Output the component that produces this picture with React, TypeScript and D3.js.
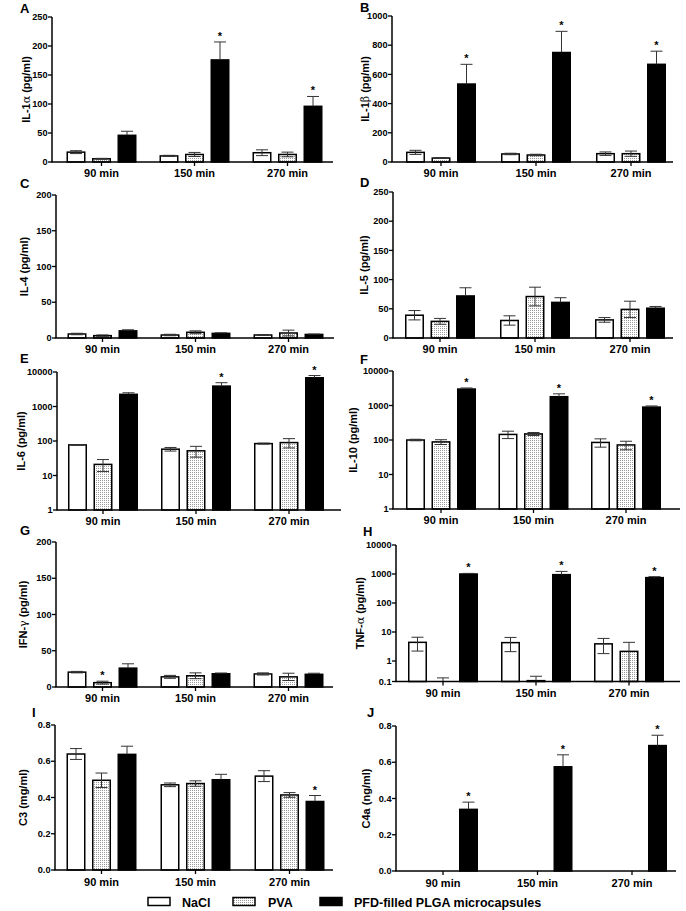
import React from 'react';
import * as d3 from 'd3';

const categories = ['90 min', '150 min', '270 min'];
const seriesNames = ['NaCl', 'PVA', 'PFD-filled PLGA microcapsules'];

// values per time group: [NaCl, PVA, PFD]
const il1aMean = [[17, 5.5, 46], [10.5, 13, 176], [16, 13, 96]];
const il1aErr = [[2.5, 0.8, 7], [1, 3.5, 31], [5, 4, 17]];
const il1aStars = [[1, 2], [2, 2]];
const il1aTicks = [0, 50, 100, 150, 200, 250];

const il1bMean = [[66, 27, 534], [55, 48, 750], [57, 57, 669]];
const il1bErr = [[14, 3, 135], [5, 5, 145], [12, 18, 90]];
const il1bStars = [[0, 2], [1, 2], [2, 2]];
const il1bTicks = [0, 200, 400, 600, 800, 1000];

const il4Mean = [[5.6, 3.3, 10], [4.2, 8, 6.5], [4.2, 7, 5]];
const il4Err = [[1, 1, 1.5], [1, 2, 0.8], [0.5, 4, 0.5]];
const il4Stars: number[][] = [];
const il4Ticks = [0, 50, 100, 150, 200];

const il5Mean = [[39, 28.5, 72], [30, 71, 61], [31, 49, 51]];
const il5Err = [[8, 5, 14], [8, 16, 8], [4, 14, 3]];
const il5Stars: number[][] = [];
const il5Ticks = [0, 50, 100, 150, 200, 250];

const il6Mean = [[77, 21, 2250], [58, 52, 3900], [84, 90, 6800]];
const il6Err = [[2, 8, 250], [7, 18, 1000], [3, 27, 1100]];
const il6Stars = [[1, 2], [2, 2]];
const il6Ticks = [1, 10, 100, 1000, 10000];

const il10Mean = [[100, 88, 3000], [145, 150, 1800], [85, 72, 900]];
const il10Err = [[5, 14, 220], [35, 15, 380], [23, 20, 70]];
const il10Stars = [[0, 2], [1, 2], [2, 2]];
const il10Ticks = [1, 10, 100, 1000, 10000];

const ifngMean = [[20.5, 6, 26], [14, 15.5, 18.3], [18, 14, 17.5]];
const ifngErr = [[1, 2, 6], [2, 4, 1], [1.5, 5, 1.5]];
const ifngStars = [[0, 1]];
const ifngTicks = [0, 50, 100, 150, 200];

const tnfaMean = [[4.4, 0.05, 1000], [4.3, 0.11, 950], [3.9, 2.15, 750]];
const tnfaErr = [[2.2, 0.1, 50], [2.2, 0.07, 280], [2.1, 2.25, 60]];
const tnfaStars = [[0, 2], [1, 2], [2, 2]];
const tnfaTicks = [0.1, 1, 10, 100, 1000, 10000];

const c3Mean = [[0.64, 0.495, 0.638], [0.47, 0.477, 0.498], [0.518, 0.414, 0.378]];
const c3Err = [[0.03, 0.04, 0.045], [0.01, 0.015, 0.03], [0.03, 0.013, 0.033]];
const c3Stars = [[2, 2]];
const c3Ticks = [0, 0.2, 0.4, 0.6, 0.8];

const c4aMean = [[0, 0, 0.34], [0, 0, 0.575], [0, 0, 0.692]];
const c4aErr = [[0, 0, 0.04], [0, 0, 0.066], [0, 0, 0.057]];
const c4aStars = [[0, 2], [1, 2], [2, 2]];
const c4aTicks = [0, 0.2, 0.4, 0.6, 0.8];

type Geo = { x0: number; x1: number; yTop: number; yBot: number; c1: number; step: number; lx: number; ly: number; tx: number; labOff: number };
type Panel = {
  letter: string;
  title: [string, string, string];
  mean: number[][];
  err: number[][];
  stars: number[][];
  ticks: number[];
  kind: 'lin' | 'log' | 'log2';
  fmt: (v: number) => string;
  geo: Geo;
};

const fInt = (v: number) => String(v);
const f1 = d3.format('.1f');

const panels: Panel[] = [
  { letter: 'A', title: ['IL-1', 'α', ' (pg/ml)'], mean: il1aMean, err: il1aErr, stars: il1aStars, ticks: il1aTicks, kind: 'lin', fmt: fInt,
    geo: { x0: 52, x1: 333, yTop: 17, yBot: 162, c1: 101.5, step: 93, lx: 20, ly: 13, tx: 26, labOff: 15 } },
  { letter: 'B', title: ['IL-1', 'β', ' (pg/ml)'], mean: il1bMean, err: il1bErr, stars: il1bStars, ticks: il1bTicks, kind: 'lin', fmt: fInt,
    geo: { x0: 392, x1: 673, yTop: 16, yBot: 162, c1: 441, step: 95, lx: 360, ly: 12, tx: 365, labOff: 15 } },
  { letter: 'C', title: ['IL-4 (pg/ml)', '', ''], mean: il4Mean, err: il4Err, stars: il4Stars, ticks: il4Ticks, kind: 'lin', fmt: fInt,
    geo: { x0: 56, x1: 334, yTop: 195, yBot: 338, c1: 102.5, step: 93, lx: 20, ly: 188, tx: 24, labOff: 15 } },
  { letter: 'D', title: ['IL-5 (pg/ml)', '', ''], mean: il5Mean, err: il5Err, stars: il5Stars, ticks: il5Ticks, kind: 'lin', fmt: fInt,
    geo: { x0: 393, x1: 673, yTop: 192, yBot: 338, c1: 440, step: 95, lx: 360, ly: 187, tx: 364, labOff: 15 } },
  { letter: 'E', title: ['IL-6 (pg/ml)', '', ''], mean: il6Mean, err: il6Err, stars: il6Stars, ticks: il6Ticks, kind: 'log', fmt: fInt,
    geo: { x0: 57, x1: 341, yTop: 372, yBot: 510, c1: 103, step: 93, lx: 20, ly: 363, tx: 21, labOff: 15 } },
  { letter: 'F', title: ['IL-10  (pg/ml)', '', ''], mean: il10Mean, err: il10Err, stars: il10Stars, ticks: il10Ticks, kind: 'log', fmt: fInt,
    geo: { x0: 393, x1: 680, yTop: 371, yBot: 509, c1: 441, step: 92.5, lx: 360, ly: 364, tx: 353, labOff: 15 } },
  { letter: 'G', title: ['IFN-', 'γ', ' (pg/ml)'], mean: ifngMean, err: ifngErr, stars: ifngStars, ticks: ifngTicks, kind: 'lin', fmt: fInt,
    geo: { x0: 56, x1: 333, yTop: 542, yBot: 687, c1: 102.5, step: 93, lx: 20, ly: 535, tx: 23, labOff: 15 } },
  { letter: 'H', title: ['TNF-', 'α', ' (pg/ml)'], mean: tnfaMean, err: tnfaErr, stars: tnfaStars, ticks: tnfaTicks, kind: 'log2', fmt: fInt,
    geo: { x0: 396, x1: 680, yTop: 545, yBot: 681.5, c1: 443, step: 93, lx: 363, ly: 536, tx: 360, labOff: 15 } },
  { letter: 'I', title: ['C3 (mg/ml)', '', ''], mean: c3Mean, err: c3Err, stars: c3Stars, ticks: c3Ticks, kind: 'lin', fmt: f1,
    geo: { x0: 55, x1: 333, yTop: 725, yBot: 870, c1: 101.5, step: 94, lx: 32, ly: 717, tx: 23, labOff: 16 } },
  { letter: 'J', title: ['C4a (ng/ml)', '', ''], mean: c4aMean, err: c4aErr, stars: c4aStars, ticks: c4aTicks, kind: 'lin', fmt: f1,
    geo: { x0: 396, x1: 676, yTop: 726, yBot: 871, c1: 443, step: 94.5, lx: 367, ly: 717, tx: 366, labOff: 16 } },
];

const fills = ['#ffffff', 'url(#dots)', '#000000'];
const FONT = "'Liberation Sans', Arial, Helvetica, sans-serif";

function PanelView({ p }: { p: Panel }) {
  const g = p.geo;
  let y: any;
  if (p.kind === 'lin') {
    y = d3.scaleLinear().domain([0, p.ticks[p.ticks.length - 1]]).range([g.yBot, g.yTop]).clamp(true);
  } else if (p.kind === 'log') {
    y = d3.scaleLog().domain([p.ticks[0], p.ticks[p.ticks.length - 1]]).range([g.yBot, g.yTop]).clamp(true);
  } else {
    // bottom segment 0.1-1 compressed, as in the original
    y = d3.scaleLog().domain([0.1, 1, 10000]).range([g.yBot, g.yBot - 20.5, g.yTop]).clamp(true);
  }
  const gx = d3.scaleBand().domain(categories).range([g.c1 - g.step / 2, g.c1 + 2.5 * g.step]);
  const sub = d3.scaleBand().domain(seriesNames).range([-34.25, 34.25]).paddingInner(0.314);
  const bw = sub.bandwidth();
  const gc = (c: string) => (gx(c) as number) + gx.bandwidth() / 2;
  const base = g.yBot;
  const yv = (v: number) => (v <= 0 ? base : y(v));

  return (
    <g>
      <text x={g.lx} y={g.ly} fontSize={13} fontWeight="bold">{p.letter}</text>
      {categories.map((c, ci) =>
        seriesNames.map((s, si) => {
          const m = p.mean[ci][si];
          if (m <= 0) return null;
          const bx = gc(c) + (sub(s) as number);
          const top = yv(m);
          if (base - top < 0.5) return null;
          return (
            <rect key={c + s} x={bx} y={top} width={bw} height={base - top}
              fill={fills[si]} stroke="#000" strokeWidth={1.5} />
          );
        })
      )}
      {categories.map((c, ci) =>
        seriesNames.map((s, si) => {
          const m = p.mean[ci][si];
          const e = p.err[ci][si];
          if (e <= 0) return null;
          const cx = gc(c) + (sub(s) as number) + bw / 2;
          const hi = yv(m + e);
          const mid = yv(m);
          const lo = yv(m - e);
          const cw = 6;
          return (
            <g key={'e' + c + s} stroke="#333" strokeWidth={1}>
              <line x1={cx} x2={cx} y1={hi} y2={si === 2 ? mid : lo} />
              <line x1={cx - cw} x2={cx + cw} y1={hi} y2={hi} />
              {si !== 2 && lo < base - 0.5 ? <line x1={cx - cw} x2={cx + cw} y1={lo} y2={lo} /> : null}
            </g>
          );
        })
      )}
      {p.stars.map(([ci, si]) => {
        const c = categories[ci];
        const s = seriesNames[si];
        const cx = gc(c) + (sub(s) as number) + bw / 2;
        const hi = yv(p.mean[ci][si] + p.err[ci][si]);
        return (
          <text key={'s' + ci + si} x={cx} y={hi - 2} fontSize={11} fontWeight="bold" textAnchor="middle">*</text>
        );
      })}
      <line x1={g.x0} x2={g.x0} y1={g.yTop} y2={g.yBot} stroke="#000" strokeWidth={1.5} />
      {p.ticks.map((t) => (
        <g key={'t' + t}>
          <line x1={g.x0 - 4} x2={g.x0} y1={y(t)} y2={y(t)} stroke="#000" strokeWidth={1.3} />
          <text x={g.x0 - 4.5} y={y(t)} dy="0.35em" fontSize={9.2} fontWeight="bold" textAnchor="end">{p.fmt(t)}</text>
        </g>
      ))}
      <line x1={g.x0 - 0.75} x2={g.x1} y1={g.yBot} y2={g.yBot} stroke="#000" strokeWidth={1.5} />
      {categories.map((c) => (
        <g key={'x' + c}>
          <line x1={gc(c)} x2={gc(c)} y1={g.yBot} y2={g.yBot + 4} stroke="#000" strokeWidth={1.3} />
          <text x={gc(c)} y={g.yBot + g.labOff} fontSize={11} fontWeight="bold" textAnchor="middle">{c}</text>
        </g>
      ))}
      <text transform={`translate(${g.tx},${(g.yTop + g.yBot) / 2}) rotate(-90)`} dy="0.35em" fontSize={11} fontWeight="bold" textAnchor="middle">
        {p.title[0]}
        {p.title[1] ? <tspan fontWeight="normal" fontFamily="'DejaVu Serif', serif">{p.title[1]}</tspan> : null}
        {p.title[2]}
      </text>
    </g>
  );
}

export default function App() {
  const legendX = [148, 233, 320];
  const legendTX = [182, 268, 354];
  return (
    <svg width={686} height={911} style={{ position: 'absolute', left: 0, top: 0, background: '#fff' }} fontFamily={FONT}>
      <defs>
        <pattern id="dots" width="2" height="2" patternUnits="userSpaceOnUse">
          <rect width="2" height="2" fill="#fff" />
          <rect width="1" height="1" fill="#9a9a9a" />
        </pattern>
      </defs>
      <rect width={686} height={911} fill="#fff" />
      {panels.map((p) => (
        <PanelView key={p.letter} p={p} />
      ))}
      {seriesNames.map((s, i) => (
        <g key={'lg' + s}>
          <rect x={legendX[i]} y={897.5} width={22} height={8} fill={fills[i]} stroke="#000" strokeWidth={1.5} />
          <text x={legendTX[i]} y={906.5} fontSize={12.5} fontWeight="bold">{s}</text>
        </g>
      ))}
    </svg>
  );
}
